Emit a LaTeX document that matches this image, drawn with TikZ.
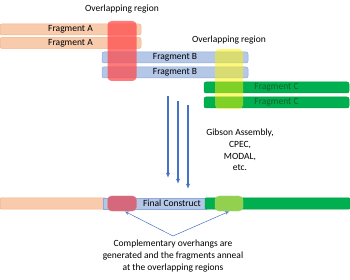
\documentclass[tikz,border=0pt]{standalone}
\usepackage{fontspec}
\setmainfont{Carlito}
\usetikzlibrary{arrows.meta}
\definecolor{peach}{HTML}{F8CBAD}
\definecolor{peachd}{HTML}{F4B183}
\definecolor{bluef}{HTML}{B4C7E7}
\definecolor{blued}{HTML}{8FAADC}
\definecolor{greenf}{HTML}{00B050}
\definecolor{greend}{HTML}{00A040}
\definecolor{greent}{HTML}{17602C}
\definecolor{arrowblue}{HTML}{4472C4}
\definecolor{ovred}{HTML}{FF4848}
\definecolor{finred}{HTML}{D5687A}
\definecolor{fingreen}{HTML}{92D050}
\tikzset{
  bar/.style={rounded corners=2pt, minimum height=11pt, inner sep=0pt, font=\fontsize{9.5}{11}\selectfont, line width=0.5pt},
  fragA/.style={bar, fill=peach, draw=peachd},
  fragB/.style={bar, fill=bluef, draw=blued},
  fragC/.style={bar, fill=greenf, draw=greend, text=greent},
  ovbox/.style={rounded corners=4pt, inner sep=0pt, minimum width=29pt},
  lbl/.style={font=\fontsize{9.5}{11.7}\selectfont, align=center, inner sep=0pt},
  flow/.style={draw=arrowblue, line width=1.1pt, -{Latex[length=5pt,width=4pt]}},
  point/.style={draw=arrowblue, line width=0.5pt, -{Stealth[length=4pt,width=3.5pt,open]}},
}
\begin{document}
\begin{tikzpicture}[x=1pt,y=-1pt]
\useasboundingbox (0,0) rectangle (350,280);
% fragments
\node[fragA, minimum width=141pt] (a1) at (70.5,29.5) {Fragment A};
\node[fragA, minimum width=141pt] (a2) at (70.5,43) {Fragment A};
\node[fragB, minimum width=146pt] (b1) at (175,57.5) {Fragment B};
\node[fragB, minimum width=146pt] (b2) at (175,72.5) {Fragment B};
\node[fragC, minimum width=145pt] (c1) at (276.5,87.5) {Fragment C};
\node[fragC, minimum width=145pt] (c2) at (276.5,102.5) {Fragment C};
% overlap boxes
\node[ovbox, fill=ovred, fill opacity=0.72, minimum height=60pt] (ov1) at (122,51) {};
\node[ovbox, fill=yellow, fill opacity=0.5, minimum width=28pt, minimum height=60pt] (ov2) at (229,79) {};
\node[lbl] (l1) at (122,9) {Overlapping region};
\node[lbl] (l2) at (229,40) {Overlapping region};
% flow arrows
\coordinate (s1) at (168,96); \coordinate (e1) at (168,178);
\coordinate (s2) at (178,101); \coordinate (e2) at (178,184);
\coordinate (s3) at (188,105); \coordinate (e3) at (188,189);
\draw[flow] (s1) -- (e1);
\draw[flow] (s2) -- (e2);
\draw[flow] (s3) -- (e3);
\node[lbl] (meth) at (240,150) {Gibson Assembly,\\CPEC,\\MODAL,\\etc.};
% final construct
\node[fragA, minimum width=106pt, rounded corners=1pt] (fa) at (53,203.5) {};
\node[fragB, minimum width=103pt, rounded corners=0pt] (fb) at (154.5,203.5) {};
\node[fragC, minimum width=145pt, rounded corners=1pt] (fc) at (277.5,203.5) {};
\node[ovbox, fill=finred, draw=finred!80!white, line width=0.4pt, minimum width=29pt, minimum height=15pt] (fr) at (122,203.5) {};
\node[ovbox, fill=fingreen, draw=fingreen!80!white, line width=0.4pt, minimum width=28pt, minimum height=15pt] (fg) at (229,203.5) {};
\node[font=\fontsize{9.5}{11}\selectfont, inner sep=0pt] (ft) at (172,203.5) {Final Construct};
% pointers
\coordinate (v) at (173,236);
\coordinate (pr) at (125,211.5);
\coordinate (pg) at (229,211.5);
\draw[point] (v) -- (pr);
\draw[point] (v) -- (pg);
\node[lbl] (note) at (173,256) {Complementary overhangs are\\generated and the fragments anneal\\at the overlapping regions};
\end{tikzpicture}
\end{document}
